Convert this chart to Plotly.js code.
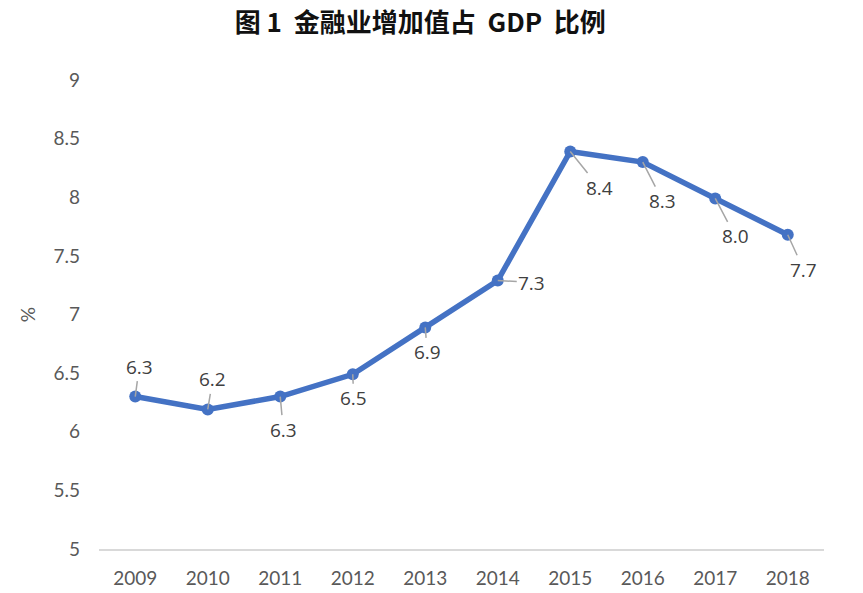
<!DOCTYPE html>
<html>
<head>
<meta charset="utf-8">
<script src="https://cdn.plot.ly/plotly-3.0.1.min.js"></script>
<style>
  html, body { margin: 0; padding: 0; background: #fff; }
  #chart { width: 863px; height: 593px; }
</style>
</head>
<body>
<div id="chart"></div>
<script>
// 金融业增加值占 GDP 比例 (%)
const years = ['2009', '2010', '2011', '2012', '2013', '2014', '2015', '2016', '2017', '2018'];
const shares = [6.3, 6.19, 6.3, 6.49, 6.89, 7.29, 8.39, 8.3, 7.99, 7.68];
const labels = ['6.3', '6.2', '6.3', '6.5', '6.9', '7.3', '8.4', '8.3', '8.0', '7.7'];

// label offsets (px) from each point, like the leader-line labels in the original
const labelOffsets = [
  [4, -30], [5, -30], [3, 33], [1, 24], [2, 25],
  [34, 2], [29, 36], [20, 39], [20, 38], [16, 35],
];

const tickFont = { family: 'Lato, "Open Sans", sans-serif', size: 19, color: '#595959' };

const annotations = years.map((yr, i) => ({
  x: i,
  y: shares[i],
  xref: 'x',
  yref: 'y',
  text: labels[i],
  showarrow: true,
  arrowhead: 0,
  arrowwidth: 1.5,
  arrowcolor: '#a6a6a6',
  standoff: 0,
  ax: labelOffsets[i][0],
  ay: labelOffsets[i][1],
  font: { family: '"Open Sans", sans-serif', size: 19, color: '#404040' },
}));

Plotly.newPlot('chart', [{
  x: years,
  y: shares,
  type: 'scatter',
  mode: 'lines+markers',
  line: { color: '#4472C4', width: 5.5 },
  marker: { color: '#4472C4', size: 12 },
  hoverinfo: 'skip',
}], {
  width: 863,
  height: 593,
  margin: { l: 99, r: 39, t: 80, b: 44 },
  paper_bgcolor: '#fff',
  plot_bgcolor: '#fff',
  showlegend: false,
  title: {
    text: '<b>图 1  金融业增加值占  GDP  比例</b>',
    font: { family: '"Noto Sans CJK SC", sans-serif', size: 26, color: '#111' },
    xref: 'container',
    x: 0.487,
    xanchor: 'center',
    yref: 'container',
    y: 0.962,
    yanchor: 'middle',
  },
  xaxis: {
    type: 'category',
    range: [-0.5, 9.5],
    showgrid: false,
    zeroline: false,
    showline: true,
    linecolor: '#d9d9d9',
    linewidth: 2,
    ticks: '',
    tickfont: tickFont,
    ticklabelstandoff: 11,
    fixedrange: true,
  },
  yaxis: {
    range: [5, 9],
    dtick: 0.5,
    tick0: 5,
    showgrid: false,
    zeroline: false,
    showline: false,
    ticks: '',
    tickfont: tickFont,
    ticklabelstandoff: 18,
    title: { text: '%', font: { family: 'Lato, sans-serif', size: 19, color: '#595959' }, standoff: 12 },
    fixedrange: true,
  },
  annotations: annotations,
}, { displayModeBar: false, responsive: false });
</script>
</body>
</html>
